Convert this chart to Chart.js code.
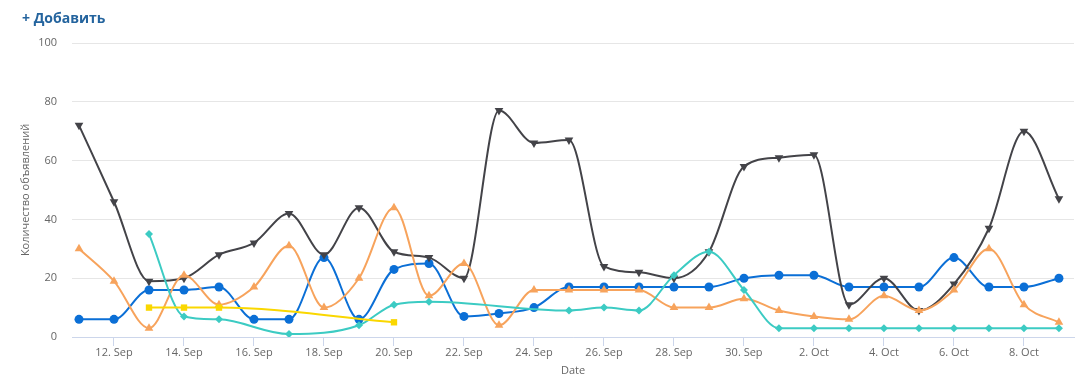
<!DOCTYPE html>
<html>
<head>
<meta charset="utf-8">
<script src="https://cdn.jsdelivr.net/npm/chart.js@4"></script>
<style>
  html, body { margin: 0; padding: 0; background: #fff; }
  #wrap { position: relative; width: 1084px; height: 378px; }
  #add { position: absolute; left: 22px; top: 8px; font: bold 14px 'Open Sans', sans-serif; color: #24649e; }
</style>
</head>
<body>
<div id="wrap">
  <canvas id="c" width="1084" height="378"></canvas>
  <div id="add">+ Добавить</div>
</div>
<script>
const days = ['11. Sep', '12. Sep', '13. Sep', '14. Sep', '15. Sep', '16. Sep', '17. Sep', '18. Sep', '19. Sep', '20. Sep',
  '21. Sep', '22. Sep', '23. Sep', '24. Sep', '25. Sep', '26. Sep', '27. Sep', '28. Sep', '29. Sep', '30. Sep',
  '1. Oct', '2. Oct', '3. Oct', '4. Oct', '5. Oct', '6. Oct', '7. Oct', '8. Oct', '9. Oct'];

const blue   = [6, 6, 16, 16, 17, 6, 6, 27, 6, 23, 25, 7, 8, 10, 17, 17, 17, 17, 17, 20, 21, 21, 17, 17, 17, 27, 17, 17, 20];
const black  = [72, 46, 19, 20, 28, 32, 42, 28, 44, 29, 27, 20, 77, 66, 67, 24, 22, 20, 29, 58, 61, 62, 11, 20, 9, 18, 37, 70, 47];
const orange = [30, 19, 3, 21, 11, 17, 31, 10, 20, 44, 14, 25, 4, 16, 16, 16, 16, 10, 10, 13, 9, 7, 6, 14, 9, 16, 30, 11, 5];
const teal   = [null, null, 35, 7, 6, null, 1, null, 4, 11, 12, null, null, null, 9, 10, 9, 21, 29, 16, 3, 3, 3, 3, 3, 3, 3, 3, 3];
const yellow = [null, null, 10, 10, 10, null, null, null, null, 5, null, null, null, null, null, null, null, null, null, null,
  null, null, null, null, null, null, null, null, null];

const xTicks = [1, 3, 5, 7, 9, 11, 13, 15, 17, 19, 21, 23, 25, 27];
const yTicks = [0, 20, 40, 60, 80, 100];

const FONT = "'Open Sans', sans-serif";

function pts(arr) {
  return arr.map((v, i) => ({ x: i, y: v })).filter(p => p.y !== null);
}

function series(label, arr, color, style, rot, r) {
  return {
    label,
    data: pts(arr),
    borderColor: color,
    backgroundColor: color,
    pointBackgroundColor: color,
    pointBorderColor: color,
    borderWidth: 2,
    pointStyle: style,
    pointRotation: rot,
    pointRadius: r,
    pointBorderWidth: 0,
    cubicInterpolationMode: 'monotone',
    fill: false
  };
}

new Chart(document.getElementById('c').getContext('2d'), {
  type: 'line',
  data: {
    datasets: [
      series('Series 5', yellow, '#fad700', 'rect', 0, 4.5),
      series('Series 4', teal, '#3ccbc3', 'rectRot', 0, 4),
      series('Series 3', orange, '#f7a35c', 'triangle', 0, 5),
      series('Series 2', black, '#434348', 'triangle', 180, 5),
      series('Series 1', blue, '#0b6fd6', 'circle', 0, 4.5)
    ]
  },
  options: {
    responsive: false,
    animation: false,
    layout: { padding: { top: 43, right: 10, bottom: 0, left: 0 } },
    plugins: { legend: { display: false }, tooltip: { enabled: false } },
    scales: {
      x: {
        type: 'linear',
        min: -0.2,
        max: 28.43,
        afterBuildTicks: s => { s.ticks = xTicks.map(v => ({ value: v })); },
        afterFit: s => { s.height = 41; },
        ticks: {
          autoSkip: false,
          maxRotation: 0,
          padding: 0,
          color: '#666666',
          font: { family: FONT, size: 11 },
          callback: v => days[v]
        },
        grid: { drawOnChartArea: false, drawTicks: true, tickLength: 9, tickColor: '#ccd6eb', tickWidth: 1 },
        border: { display: true, color: '#ccd6eb', width: 1 },
        title: { display: true, text: 'Date', color: '#666666', font: { family: FONT, size: 11 }, padding: { top: 0, bottom: 1 } }
      },
      y: {
        min: 0,
        max: 100,
        afterBuildTicks: s => { s.ticks = yTicks.map(v => ({ value: v })); },
        afterFit: s => { s.width = 72; },
        ticks: { color: '#666666', padding: 15, font: { family: FONT, size: 11 } },
        grid: { color: '#e6e6e6', drawTicks: false },
        border: { display: false },
        title: { display: true, text: 'Количество объявлений', color: '#666666', font: { family: FONT, size: 11 }, padding: { top: 19, bottom: 0 } }
      }
    }
  }
});
</script>
</body>
</html>
